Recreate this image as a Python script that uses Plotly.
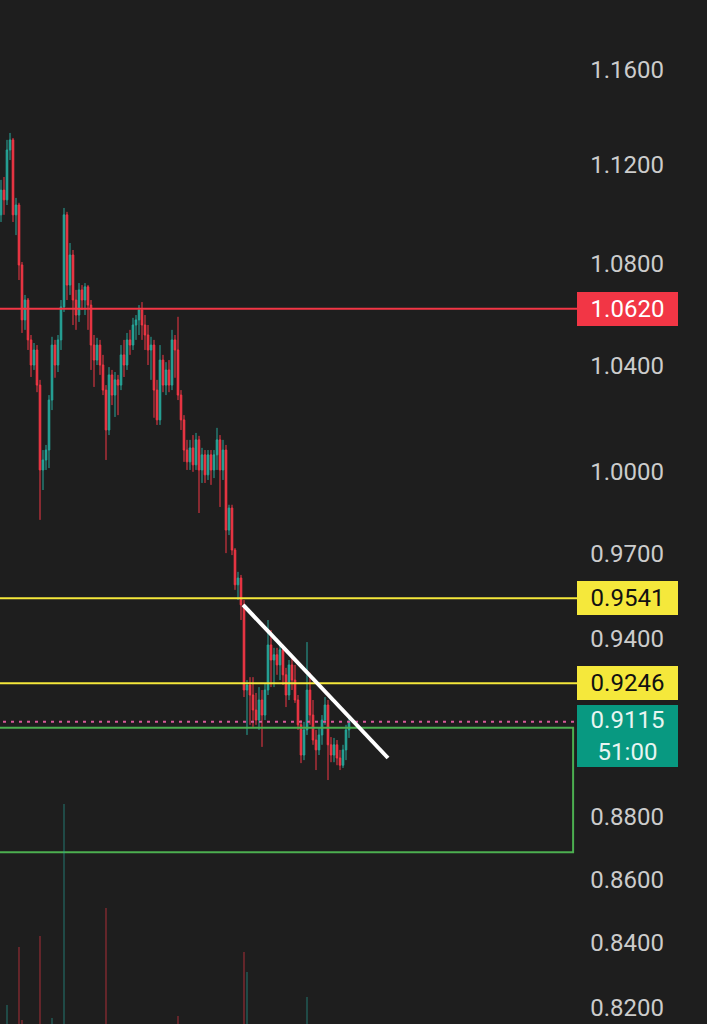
import math
import plotly.graph_objects as go

# ---------------- data ----------------
opens = [1.0995, 1.1096, 1.1056, 1.1262, 1.1304, 1.0995, 1.1035, 1.0793, 1.0576, 1.0654,
         1.0498, 1.0401, 1.0459, 1.0324, 1.0005, 1.0042, 1.0079, 1.0267, 1.0478, 1.0401,
         1.0498, 1.0627, 1.0995, 1.0713, 1.0833, 1.0654, 1.0595, 1.0694, 1.0654, 1.0706,
         1.0634, 1.0478, 1.0420, 1.0478, 1.0401, 1.0305, 1.0154, 1.0363, 1.0286, 1.0344,
         1.0324, 1.0440, 1.0401, 1.0498, 1.0478, 1.0556, 1.0576, 1.0615, 1.0556, 1.0517,
         1.0459, 1.0478, 1.0305, 1.0192, 1.0420, 1.0324, 1.0382, 1.0324, 1.0498, 1.0459,
         1.0286, 1.0192, 1.0079, 1.0035, 1.0087, 1.0024, 1.0117, 1.0005, 1.0061, 0.9987,
         1.0061, 1.0005, 1.0061, 1.0117, 1.0005, 1.0079, 0.9785, 0.9865, 0.9713, 0.9589,
         0.9613, 0.9518, 0.9223, 0.9240, 0.9206, 0.9155, 0.9121, 0.9189, 0.9138, 0.9223,
         0.9378, 0.9326, 0.9344, 0.9309, 0.9361, 0.9275, 0.9206, 0.9309, 0.9257, 0.9189,
         0.9105, 0.9004, 0.9088, 0.9223, 0.9138, 0.9054, 0.9021, 0.9071, 0.9121, 0.9172,
         0.9038, 0.9004, 0.9038, 0.8994, 0.8970, 0.9021, 0.9088]
highs = [1.1138, 1.1150, 1.1304, 1.1333, 1.1312, 1.1064, 1.1044, 1.0805, 1.0674, 1.0662,
         1.0517, 1.0486, 1.0478, 1.0344, 1.0079, 1.0098, 1.0286, 1.0510, 1.0498, 1.0517,
         1.0654, 1.1023, 1.1007, 1.0881, 1.0853, 1.0694, 1.0721, 1.0713, 1.0721, 1.0713,
         1.0654, 1.0517, 1.0506, 1.0498, 1.0440, 1.0324, 1.0393, 1.0382, 1.0374, 1.0363,
         1.0478, 1.0498, 1.0525, 1.0537, 1.0584, 1.0595, 1.0634, 1.0646, 1.0595, 1.0556,
         1.0510, 1.0498, 1.0344, 1.0478, 1.0440, 1.0412, 1.0420, 1.0537, 1.0517, 1.0588,
         1.0305, 1.0210, 1.0117, 1.0117, 1.0135, 1.0143, 1.0132, 1.0087, 1.0079, 1.0079,
         1.0079, 1.0079, 1.0162, 1.0135, 1.0117, 1.0098, 0.9877, 0.9877, 0.9720, 0.9635,
         0.9624, 0.9535, 0.9257, 0.9267, 0.9267, 0.9213, 0.9233, 0.9223, 0.9247, 0.9465,
         0.9430, 0.9368, 0.9368, 0.9378, 0.9378, 0.9299, 0.9326, 0.9333, 0.9309, 0.9206,
         0.9121, 0.9115, 0.9388, 0.9282, 0.9189, 0.9088, 0.9095, 0.9138, 0.9199, 0.9189,
         0.9064, 0.9061, 0.9054, 0.9021, 0.9038, 0.9105, 0.9138]
lows = [1.0966, 1.0995, 1.1035, 1.1220, 1.0966, 1.0913, 1.0733, 1.0525, 1.0537, 1.0459,
        1.0355, 1.0382, 1.0297, 0.9822, 0.9931, 1.0005, 1.0012, 1.0229, 1.0352, 1.0374,
        1.0459, 1.0607, 1.0654, 1.0674, 1.0556, 1.0537, 1.0568, 1.0615, 1.0595, 1.0537,
        1.0382, 1.0317, 1.0401, 1.0363, 1.0286, 1.0042, 1.0135, 1.0248, 1.0203, 1.0210,
        1.0305, 1.0355, 1.0382, 1.0440, 1.0459, 1.0498, 1.0517, 1.0498, 1.0459, 1.0401,
        1.0344, 1.0200, 1.0173, 1.0173, 1.0297, 1.0286, 1.0297, 1.0305, 1.0352, 1.0267,
        1.0154, 1.0035, 1.0005, 1.0005, 0.9998, 1.0005, 0.9847, 0.9957, 0.9957, 0.9968,
        0.9950, 0.9975, 1.0005, 0.9869, 0.9968, 0.9702, 0.9767, 0.9695, 0.9571, 0.9535,
        0.9465, 0.9199, 0.9071, 0.9105, 0.9098, 0.9105, 0.9088, 0.9031, 0.9121, 0.9206,
        0.9233, 0.9233, 0.9275, 0.9257, 0.9240, 0.9165, 0.9189, 0.9223, 0.9179, 0.9088,
        0.8977, 0.8987, 0.9071, 0.9105, 0.9038, 0.8954, 0.9004, 0.9038, 0.9105, 0.8921,
        0.8980, 0.8980, 0.8970, 0.8954, 0.8961, 0.8987, 0.9061]
closes = [1.1096, 1.1056, 1.1262, 1.1304, 1.0995, 1.1035, 1.0793, 1.0576, 1.0654, 1.0498,
          1.0401, 1.0459, 1.0324, 1.0005, 1.0042, 1.0079, 1.0267, 1.0478, 1.0401, 1.0498,
          1.0627, 1.0995, 1.0713, 1.0833, 1.0654, 1.0595, 1.0694, 1.0654, 1.0706, 1.0634,
          1.0478, 1.0420, 1.0478, 1.0401, 1.0305, 1.0154, 1.0363, 1.0286, 1.0344, 1.0324,
          1.0440, 1.0401, 1.0498, 1.0478, 1.0556, 1.0576, 1.0615, 1.0556, 1.0517, 1.0459,
          1.0478, 1.0305, 1.0192, 1.0420, 1.0324, 1.0382, 1.0324, 1.0498, 1.0459, 1.0286,
          1.0192, 1.0079, 1.0035, 1.0087, 1.0024, 1.0117, 1.0005, 1.0061, 0.9987, 1.0061,
          1.0005, 1.0061, 1.0117, 1.0005, 1.0079, 0.9785, 0.9865, 0.9713, 0.9589, 0.9613,
          0.9518, 0.9223, 0.9240, 0.9206, 0.9155, 0.9121, 0.9189, 0.9138, 0.9223, 0.9378,
          0.9326, 0.9344, 0.9309, 0.9361, 0.9275, 0.9206, 0.9309, 0.9257, 0.9189, 0.9105,
          0.9004, 0.9088, 0.9223, 0.9138, 0.9054, 0.9021, 0.9071, 0.9121, 0.9172, 0.9038,
          0.9004, 0.9038, 0.8994, 0.8970, 0.9021, 0.9088, 0.9115]
volumes = [0, 0, 19, 0, 0, 0, 77, 4, 0, 0,
           0, 0, 0, 88, 0, 0, 0, 6, 0, 0,
           0, 220, 0, 0, 0, 0, 0, 0, 0, 0,
           0, 0, 0, 0, 0, 116, 0, 0, 0, 0,
           0, 0, 0, 0, 0, 0, 0, 0, 0, 0,
           0, 0, 0, 0, 0, 0, 0, 0, 0, 8,
           0, 0, 0, 0, 0, 0, 0, 0, 0, 0,
           0, 0, 0, 0, 0, 0, 0, 0, 0, 0,
           0, 72, 52, 0, 0, 0, 0, 0, 0, 0,
           0, 0, 0, 0, 0, 0, 0, 0, 0, 0,
           0, 0, 27, 0, 0, 0, 0, 0, 0, 0,
           0, 0, 0, 0, 0, 0, 0]

tick_values = [1.16, 1.12, 1.08, 1.04, 1.00, 0.97, 0.94, 0.88, 0.86, 0.84, 0.82]
level_red = 1.0620
level_yellow = [0.9541, 0.9246]
last_price = 0.9115
countdown = "51:00"
zone_top = 0.9095
zone_bottom = 0.8686
trend_x = [80.7, 129.0]
trend_y = [0.9518, 0.8994]

# ---------------- styling ----------------
BG = "#1e1e1e"
UP = "#26a69a"
DOWN = "#f23645"
YELLOW = "#f5e83b"
ZONE = "#4caf50"
FONT = "Roboto"
W, H = 707, 1024
PX_PER_BAR = 3.0
x_lo = -1.0 / PX_PER_BAR
x_hi = x_lo + W / PX_PER_BAR
line_end = 192.0       # where horizontal levels stop (before the price labels)
zone_end = 190.7
y_range = [-0.088771, 0.075701]

idx = list(range(len(closes)))
vol_colors = ["rgba(38,166,154,0.55)" if c >= o else "rgba(242,54,69,0.55)"
              for o, c in zip(opens, closes)]

fig = go.Figure()

fig.add_trace(go.Bar(x=idx, y=volumes, yaxis="y2", width=0.4,
                     marker=dict(color=vol_colors, line=dict(width=0)),
                     hoverinfo="skip", showlegend=False))

fig.add_trace(go.Candlestick(
    x=idx, open=opens, high=highs, low=lows, close=closes,
    increasing=dict(line=dict(color=UP, width=1), fillcolor=UP),
    decreasing=dict(line=dict(color=DOWN, width=1), fillcolor=DOWN),
    whiskerwidth=0, hoverinfo="skip", showlegend=False))

# horizontal levels
fig.add_trace(go.Scatter(x=[-2, line_end], y=[level_red, level_red], mode="lines",
                         line=dict(color=DOWN, width=2), hoverinfo="skip", showlegend=False))
for lv in level_yellow:
    fig.add_trace(go.Scatter(x=[-2, line_end], y=[lv, lv], mode="lines",
                             line=dict(color=YELLOW, width=2), hoverinfo="skip", showlegend=False))
fig.add_trace(go.Scatter(x=[-2, line_end], y=[last_price, last_price], mode="lines",
                         line=dict(color="#d8589a", width=2, dash="3px,5px"),
                         hoverinfo="skip", showlegend=False))

# zone rectangle
fig.add_trace(go.Scatter(x=[-2, zone_end, zone_end, -2],
                         y=[zone_top, zone_top, zone_bottom, zone_bottom],
                         mode="lines", line=dict(color=ZONE, width=2),
                         hoverinfo="skip", showlegend=False))

# trend line
fig.add_trace(go.Scatter(x=trend_x, y=trend_y, mode="lines",
                         line=dict(color="#ffffff", width=4),
                         hoverinfo="skip", showlegend=False))

label_x = 627.5 / W
ann = []
def box(value, text, bg, fg, height=34, yshift=0):
    ann.append(dict(x=label_x, xref="paper", xanchor="center",
                    y=math.log10(value), yref="y", yanchor="middle",
                    text=text, showarrow=False, bgcolor=bg, width=101, height=height,
                    borderpad=0, borderwidth=0, align="center", yshift=yshift,
                    font=dict(family=FONT, size=24, color=fg)))

box(level_red, f"{level_red:.4f}", DOWN, "#ffffff")
for lv in level_yellow:
    box(lv, f"{lv:.4f}", YELLOW, "#111111")
box(last_price, f"{last_price:.4f}<br>{countdown}", "#089981", "#e8f5f1", height=62, yshift=-14)

fig.update_layout(
    width=W, height=H, margin=dict(l=0, r=0, t=0, b=0),
    paper_bgcolor=BG, plot_bgcolor=BG, showlegend=False,
    boxgap=0.25,
    xaxis=dict(range=[x_lo, x_hi], visible=False, rangeslider=dict(visible=False),
               fixedrange=True),
    yaxis=dict(type="log", range=y_range, side="right", tickvals=tick_values,
               ticktext=[f"{v:.4f}" for v in tick_values],
               ticklabelposition="inside", ticklabelstandoff=40, ticks="",
               showgrid=False, zeroline=False, showline=False,
               tickfont=dict(family=FONT, size=24, color="#cccccc"), fixedrange=True),
    yaxis2=dict(overlaying="y", range=[0, H], visible=False, fixedrange=True),
    annotations=ann,
)

fig.write_html("out.html")
